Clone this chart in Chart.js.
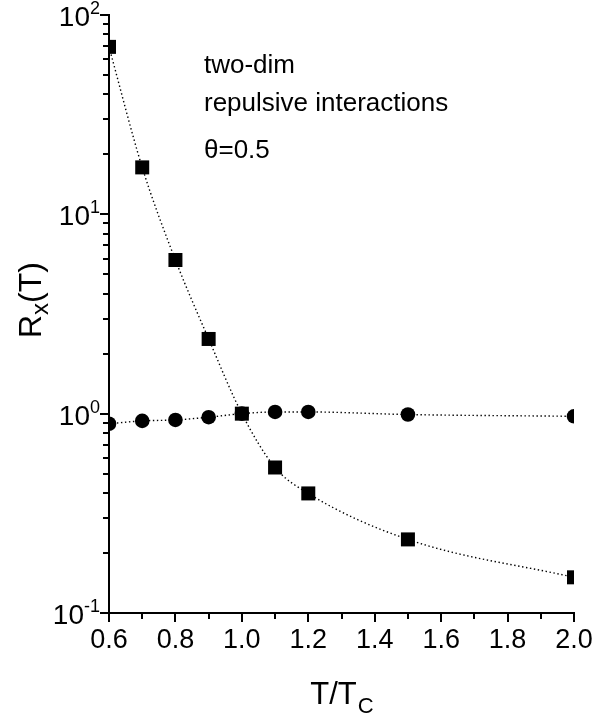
<!DOCTYPE html>
<html>
<head>
<meta charset="utf-8">
<script src="https://cdn.jsdelivr.net/npm/chart.js@4"></script>
<style>
  body { margin: 0; background: #fff; }
  canvas { display: block; }
</style>
</head>
<body>
<canvas id="rxChart" width="606" height="719"></canvas>
<script>
// T/Tc sample points
var tOverTc = [0.6, 0.7, 0.8, 0.9, 1.0, 1.1, 1.2, 1.5, 2.0];
// ratio R_x(T), squares
var rxSquares = [69.2, 17.2, 5.9, 2.37, 1.0, 0.537, 0.398, 0.234, 0.151];
// ratio R_x(T), circles
var rxCircles = [0.89, 0.92, 0.93, 0.96, 1.0, 1.02, 1.02, 0.99, 0.97];
// decade labels on the log axis: mantissa and exponent
var yDecades = [0.1, 1, 10, 100];
var yExponents = ['-1', '0', '1', '2'];
var noteLines = ['two-dim', 'repulsive interactions', '\u03b8=0.5'];

var FONT = "'Liberation Sans', Helvetica, Arial, sans-serif";

function toPoints(xs, ys) {
    return xs.map(function(x, i) { return {x: x, y: ys[i]}; });
}

// draws tick marks, decade labels, axis titles and the note
var decorations = {
    id: 'decorations',
    afterDraw: function(chart) {
        var ctx = chart.ctx;
        var xs = chart.scales.x;
        var ys = chart.scales.y;
        var area = chart.chartArea;
        ctx.save();
        ctx.strokeStyle = '#000';
        ctx.fillStyle = '#000';
        ctx.lineWidth = 2;

        // x ticks: major every 0.2, minor every 0.1
        for (var k = 6; k <= 20; k++) {
            var px = Math.round(xs.getPixelForValue(k / 10));
            var len = (k % 2 === 0) ? 9 : 6;
            ctx.beginPath();
            ctx.moveTo(px, area.bottom);
            ctx.lineTo(px, area.bottom + len);
            ctx.stroke();
        }

        // y ticks: major at decades, minor at 2..9
        for (var d = 0; d < yDecades.length; d++) {
            var base = yDecades[d];
            for (var m = 1; m <= 9; m++) {
                var v = base * m;
                if (v > 100.0001) break;
                var py = Math.round(ys.getPixelForValue(v));
                var l = (m === 1) ? 9 : 6;
                ctx.beginPath();
                ctx.moveTo(area.left, py);
                ctx.lineTo(area.left - l, py);
                ctx.stroke();
            }
        }

        // decade labels 10^n
        for (var j = 0; j < yDecades.length; j++) {
            var y = ys.getPixelForValue(yDecades[j]);
            ctx.font = '18px ' + FONT;
            ctx.textAlign = 'right';
            ctx.textBaseline = 'alphabetic';
            var expW = ctx.measureText(yExponents[j]).width;
            var expX = area.left - 9;
            ctx.fillText(yExponents[j], expX, y - 1);
            ctx.font = '28px ' + FONT;
            ctx.fillText('10', expX - expW, y + 11);
        }

        // x title T/T_C
        ctx.textAlign = 'left';
        ctx.textBaseline = 'alphabetic';
        ctx.font = '31px ' + FONT;
        var main = 'T/T';
        var mw = ctx.measureText(main).width;
        ctx.font = '22px ' + FONT;
        var sw = ctx.measureText('C').width;
        var cx = (area.left + area.right) / 2;
        var startX = cx - (mw + sw) / 2;
        ctx.font = '31px ' + FONT;
        ctx.fillText(main, startX, 704);
        ctx.font = '22px ' + FONT;
        ctx.fillText('C', startX + mw + 1, 713);

        // y title R_x(T), rotated
        ctx.save();
        ctx.translate(41, 300);
        ctx.rotate(-Math.PI / 2);
        ctx.font = '32px ' + FONT;
        var rW = ctx.measureText('R').width;
        var tW = ctx.measureText('(T)').width;
        ctx.font = '24px ' + FONT;
        var xW = ctx.measureText('x').width;
        var sx = -(rW + xW + tW) / 2;
        ctx.font = '32px ' + FONT;
        ctx.fillText('R', sx, 0);
        ctx.font = '24px ' + FONT;
        ctx.fillText('x', sx + rW, 7);
        ctx.font = '32px ' + FONT;
        ctx.fillText('(T)', sx + rW + xW, 0);
        ctx.restore();

        // note text
        ctx.font = '26px ' + FONT;
        var noteY = [73, 111, 158];
        for (var n = 0; n < noteLines.length; n++) {
            ctx.fillText(noteLines[n], 204, noteY[n]);
        }
        ctx.restore();
    }
};

var ctx = document.getElementById('rxChart').getContext('2d');

new Chart(ctx, {
    type: 'line',
    data: {
        datasets: [{
            label: 'squares',
            data: toPoints(tOverTc, rxSquares),
            borderColor: '#000',
            backgroundColor: '#000',
            borderWidth: 1.4,
            borderDash: [1.4, 2.6],
            pointStyle: 'rect',
            pointRadius: 9.9,
            pointBorderWidth: 0,
            pointBackgroundColor: '#000',
            cubicInterpolationMode: 'monotone',
            fill: false
        }, {
            label: 'circles',
            data: toPoints(tOverTc, rxCircles),
            borderColor: '#000',
            backgroundColor: '#000',
            borderWidth: 1.4,
            borderDash: [1.4, 2.6],
            pointStyle: 'circle',
            pointRadius: 7.3,
            pointBorderWidth: 0,
            pointBackgroundColor: '#000',
            cubicInterpolationMode: 'monotone',
            fill: false
        }]
    },
    options: {
        responsive: false,
        animation: false,
        events: [],
        layout: {
            padding: {top: 15, right: 32, left: 0, bottom: 0}
        },
        plugins: {
            legend: {display: false},
            tooltip: {enabled: false}
        },
        scales: {
            x: {
                type: 'linear',
                min: 0.6,
                max: 2.0,
                grid: {display: false, drawTicks: false},
                border: {display: true, color: '#000', width: 2},
                ticks: {
                    stepSize: 0.2,
                    color: '#000',
                    padding: 11,
                    maxRotation: 0,
                    font: {family: FONT, size: 27},
                    callback: function(value) { return value.toFixed(1); }
                },
                afterFit: function(scale) { scale.height = 106; }
            },
            y: {
                type: 'logarithmic',
                min: 0.1,
                max: 100,
                grid: {display: false, drawTicks: false},
                border: {display: true, color: '#000', width: 2},
                ticks: {display: false},
                afterFit: function(scale) { scale.width = 109; }
            }
        }
    },
    plugins: [decorations]
});
</script>
</body>
</html>
